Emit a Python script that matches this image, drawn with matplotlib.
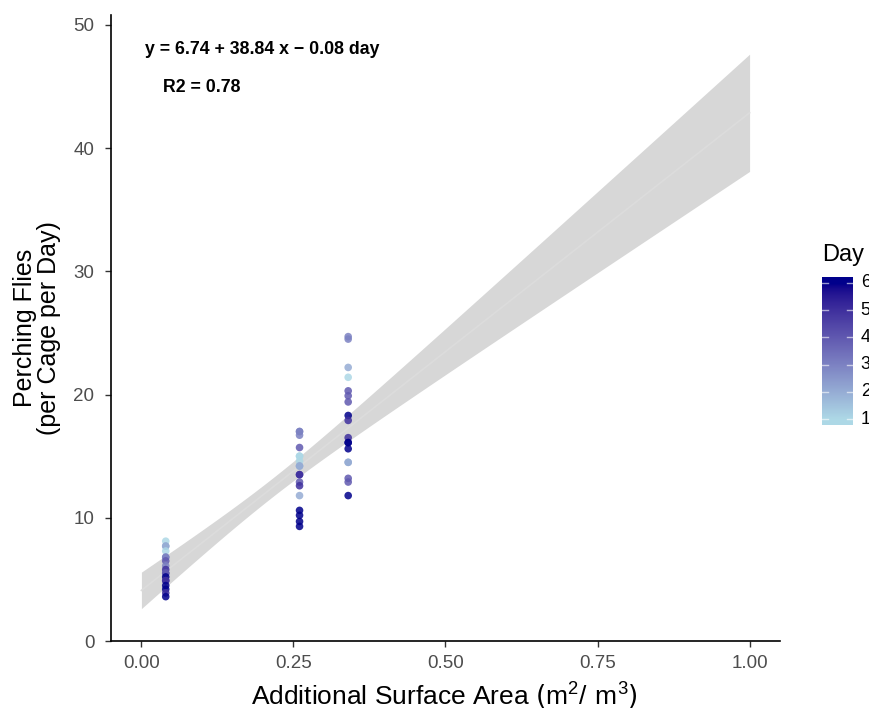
import numpy as np
import matplotlib
matplotlib.use("Agg")
import matplotlib.pyplot as plt
from matplotlib.colors import ListedColormap, Normalize

plt.rcParams['font.family'] = ['Liberation Sans', 'DejaVu Sans']

# ---- data (some points overlap exactly) ----
surface_area = [0.04]*18 + [0.26]*18 + [0.34]*18
perching = [8.1, 7.7, 7.7, 7.3, 6.8, 6.8, 6.5, 6.1, 5.8, 5.5, 5.5, 5.2, 4.9, 4.9, 4.5, 4.2, 3.9, 3.6,
            17.0, 17.0, 16.7, 15.7, 15.0, 15.0, 14.6, 14.2, 14.2, 13.5, 13.5, 12.9, 12.6, 11.8, 10.6, 10.2, 9.7, 9.3,
            24.7, 24.5, 22.2, 21.4, 20.3, 19.9, 19.4, 18.3, 17.9, 16.5, 16.1, 16.1, 15.6, 14.5, 14.5, 13.2, 12.9, 11.8]
day = [1, 2, 2, 1, 3, 3, 4, 3, 5, 4, 4, 6, 5, 5, 6, 6, 5, 6,
       3, 3, 3, 4, 1, 1, 1, 2, 2, 5, 5, 4, 5, 2, 6, 6, 6, 6,
       3, 3, 2, 1, 4, 4, 4, 6, 5, 5, 6, 6, 6, 2, 2, 4, 4, 6]
eq_text = "y = 6.74 + 38.84 x \u2212 0.08 day"
r2_text = "R2 = 0.78"
x_ticks = [0.00, 0.25, 0.50, 0.75, 1.00]
x_ticklabels = ["0.00", "0.25", "0.50", "0.75", "1.00"]
y_ticks = [0, 10, 20, 30, 40, 50]
day_ticks = [1, 2, 3, 4, 5, 6]

# ---- Lab-interpolated gradient (like ggplot scale_colour_gradient) ----
def srgb_to_lab(rgb):
    rgb = np.asarray(rgb, float)
    lin = np.where(rgb <= 0.04045, rgb/12.92, ((rgb+0.055)/1.055)**2.4)
    M = np.array([[0.4124, 0.3576, 0.1805], [0.2126, 0.7152, 0.0722], [0.0193, 0.1192, 0.9505]])
    xyz = M @ lin
    xyz = xyz / np.array([0.95047, 1.0, 1.08883])
    f = np.where(xyz > 0.008856, np.cbrt(xyz), 7.787*xyz + 16/116)
    return np.array([116*f[1]-16, 500*(f[0]-f[1]), 200*(f[1]-f[2])])

def lab_to_srgb(lab):
    L, a, b = lab
    fy = (L+16)/116; fx = fy + a/500; fz = fy - b/200
    f = np.array([fx, fy, fz])
    xyz = np.where(f**3 > 0.008856, f**3, (f-16/116)/7.787) * np.array([0.95047, 1.0, 1.08883])
    Minv = np.array([[3.2406, -1.5372, -0.4986], [-0.9689, 1.8758, 0.0415], [0.0557, -0.2040, 1.0570]])
    lin = np.clip(Minv @ xyz, 0, 1)
    rgb = np.where(lin <= 0.0031308, 12.92*lin, 1.055*lin**(1/2.4)-0.055)
    return np.clip(rgb, 0, 1)

low = srgb_to_lab(matplotlib.colors.to_rgb("#ADD8E6"))
high = srgb_to_lab(matplotlib.colors.to_rgb("#00008B"))
cols = [lab_to_srgb(low + (high-low)*t) for t in np.linspace(0, 1, 256)]
cmap = ListedColormap(cols)
norm = Normalize(vmin=1, vmax=6)

# ---- figure ----
fig = plt.figure(figsize=(8.7, 7.13), dpi=100)
ax = fig.add_axes([111/870, 1-641/713, (780-111)/870, (641-15)/713])

xa = np.array(surface_area); ya = np.array(perching)
n = len(xa)
slope, intercept = np.polyfit(xa, ya, 1)
resid = ya - (intercept + slope*xa)
s = np.sqrt(np.sum(resid**2)/(n-2))
sxx = np.sum((xa - xa.mean())**2)
xs = np.linspace(0, 1, 200)
fit = intercept + slope*xs
se = s*np.sqrt(1/n + (xs - xa.mean())**2/sxx)
tval = 2.007
ax.fill_between(xs, fit - tval*se, fit + tval*se, color='#d7d7d7', lw=0, zorder=1)
ax.plot(xs, fit, color='#dcdcdc', lw=1.2, zorder=2)

ax.scatter(xa, ya, c=day, cmap=cmap, norm=norm, s=30, alpha=0.85, lw=0, zorder=3)

ax.set_xlim(-0.05, 1.05)
ax.set_ylim(0, 50.8)
ax.set_xticks(x_ticks)
ax.set_xticklabels(x_ticklabels)
ax.set_yticks(y_ticks)
for sp in ['top', 'right']:
    ax.spines[sp].set_visible(False)
for sp in ['left', 'bottom']:
    ax.spines[sp].set_linewidth(1.2)
ax.tick_params(axis='both', colors='#333333', labelcolor='#4d4d4d', labelsize=13.5, length=4, width=1)
ax.tick_params(axis='x', pad=6)
ax.tick_params(axis='y', pad=8)
ax.set_xlabel("Additional Surface Area $(\\mathregular{m^2/\\ m^3})$", fontsize=19)
ax.xaxis.set_label_coords(0.499, -0.088)
ax.xaxis.label.set_va('center')
ax.set_ylabel("Perching Flies\n(per Cage per Day)", fontsize=18, linespacing=1.0)
ax.yaxis.set_label_coords(-0.111, 0.5)
ax.yaxis.label.set_va('center')

fig.text(145/870, 1-50/713, eq_text, fontsize=12.8, fontweight='bold', va='center', ha='left')
fig.text(163/870, 1-87/713, r2_text, fontsize=12.8, fontweight='bold', va='center', ha='left')

# ---- colour legend ----
cax = fig.add_axes([822/870, 1-425/713, 31/870, 148/713])
lo, hi = 0.78, 6.22
grad = np.linspace(lo, hi, 300).reshape(-1, 1)
cax.imshow(np.clip(grad, 1, 6), cmap=cmap, norm=norm, aspect='auto', origin='lower',
           extent=[0, 1, lo, hi])
cax.set_xlim(0, 1); cax.set_ylim(lo, hi)
for d in day_ticks:
    cax.plot([0, 0.2], [d, d], color='white', lw=1, alpha=0.6)
    cax.plot([0.8, 1], [d, d], color='white', lw=1, alpha=0.6)
    cax.text(1.25, d, str(d), fontsize=13, va='center', ha='left', color='black', clip_on=False)
cax.set_xticks([]); cax.set_yticks([])
for sp in cax.spines.values():
    sp.set_visible(False)
fig.text(822/870, 1-255/713, "Day", fontsize=17, va='center', ha='left')

fig.savefig("out.png", dpi=100)
